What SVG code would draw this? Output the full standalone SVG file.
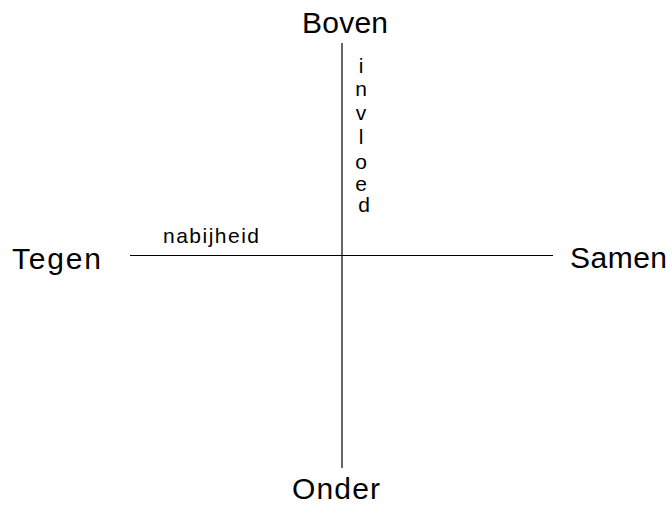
<svg xmlns="http://www.w3.org/2000/svg" width="672" height="509" viewBox="0 0 672 509">
<style>
.lbl{font-family:"Liberation Sans",Arial,sans-serif;fill:#000}
.big{font-size:30px}
.sm{font-size:21px}
.ax{stroke:#000;stroke-width:1.2;fill:none}
</style>
<rect width="672" height="509" fill="#fff"/>
<g id="connectors">
<line class="ax" x1="130" y1="255.5" x2="553" y2="255.5"/>
<line class="ax" x1="342" y1="43" x2="342" y2="468"/>
</g>
<g id="boven"><text class="lbl big" x="345" y="33" text-anchor="middle" textLength="86">Boven</text></g>
<g id="onder"><text class="lbl big" x="336" y="499" text-anchor="middle" textLength="88">Onder</text></g>
<g id="tegen"><text class="lbl big" x="12" y="269" textLength="89">Tegen</text></g>
<g id="samen"><text class="lbl big" x="570" y="268" textLength="97">Samen</text></g>
<g id="nabijheid"><text class="lbl sm" x="163" y="243" textLength="96">nabijheid</text></g>
<g id="invloed">
<text class="lbl sm" text-anchor="middle" x="364">
<tspan x="364" y="73">i</tspan>
<tspan x="364" y="96">n</tspan>
<tspan x="364" y="120">v</tspan>
<tspan x="364" y="144">l</tspan>
<tspan x="364" y="169">o</tspan>
<tspan x="364" y="191">e</tspan>
<tspan x="364" y="212">d</tspan>
</text>
</g>
</svg>
